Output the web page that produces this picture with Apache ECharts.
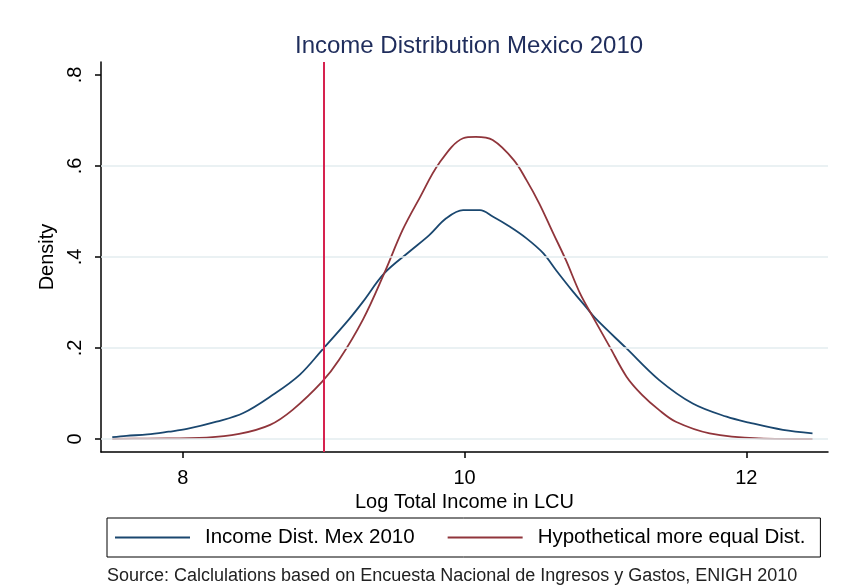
<!DOCTYPE html>
<html>
<head>
<meta charset="UTF-8">
<title>Income Distribution Mexico 2010</title>
<script src="https://cdn.jsdelivr.net/npm/echarts@6/dist/echarts.min.js"></script>
<style>
  html, body { margin: 0; padding: 0; background: #fff; }
  #chart { width: 845px; height: 586px; }
</style>
</head>
<body>
<div id="chart"></div>
<script>
// density: [log income, density]
var incomeMex2010 = [
    [7.50, 0.004], [7.60, 0.007], [7.75, 0.010], [7.90, 0.016], [8.03, 0.022],
    [8.24, 0.038], [8.43, 0.057], [8.64, 0.097], [8.83, 0.141], [8.99, 0.196],
    [9.18, 0.263], [9.28, 0.302], [9.43, 0.364], [9.61, 0.412], [9.75, 0.448],
    [9.87, 0.485], [9.99, 0.503], [10.11, 0.503], [10.20, 0.489], [10.32, 0.467],
    [10.44, 0.441], [10.56, 0.408], [10.65, 0.371], [10.77, 0.324], [10.86, 0.291],
    [10.93, 0.265], [11.15, 0.199], [11.38, 0.130], [11.62, 0.078], [11.86, 0.049],
    [12.02, 0.036], [12.26, 0.020], [12.47, 0.0125]
];
var moreEqual = [
    [7.50, 0.000], [7.75, 0.001], [8.17, 0.003], [8.40, 0.011], [8.62, 0.031],
    [8.78, 0.064], [8.99, 0.126], [9.11, 0.174], [9.28, 0.263], [9.43, 0.364],
    [9.56, 0.459], [9.68, 0.529], [9.82, 0.606], [9.99, 0.661], [10.08, 0.664],
    [10.20, 0.657], [10.35, 0.613], [10.44, 0.569], [10.53, 0.518], [10.63, 0.452],
    [10.72, 0.393], [10.82, 0.320], [10.91, 0.269], [11.03, 0.203], [11.15, 0.137],
    [11.26, 0.097], [11.38, 0.064], [11.50, 0.038], [11.74, 0.0125], [12.09, 0.0015],
    [12.47, 0.000]
];
var xTicks = [8, 10, 12];
var yTicks = [0, 0.2, 0.4, 0.6, 0.8];
var gridValues = [0, 0.2, 0.4, 0.6];
var povertyLine = 9;
var seriesNames = ['Income Dist. Mex 2010', 'Hypothetical more equal Dist.'];

var font = "'Liberation Sans', Arial, sans-serif";
var myChart = echarts.init(document.getElementById('chart'));

var option = {
    backgroundColor: '#fff',
    animation: false,
    textStyle: { fontFamily: font },
    title: {
        text: 'Income Distribution Mexico 2010',
        left: 290,
        top: 29,
        textStyle: { color: '#1f2d5c', fontSize: 24, fontWeight: 'normal', fontFamily: font }
    },
    grid: { left: 101, right: 17, top: 62, bottom: 134 },
    legend: {
        data: seriesNames,
        left: 107,
        top: 518,
        padding: [9, 15, 9, 8],
        borderColor: '#000',
        borderWidth: 1,
        icon: 'rect',
        itemWidth: 75,
        itemHeight: 2,
        itemGap: 33,
        textStyle: { color: '#000', fontSize: 20.5, fontFamily: font, padding: [0, 0, 0, 10] }
    },
    xAxis: {
        type: 'value',
        min: 7.42,
        max: 12.58,
        name: 'Log Total Income in LCU',
        nameLocation: 'middle',
        nameGap: 34,
        nameTextStyle: { color: '#000', fontSize: 20, fontFamily: font },
        axisLine: { onZero: false, lineStyle: { color: '#000', width: 1.5 } },
        axisTick: { length: 6, customValues: xTicks, lineStyle: { color: '#000', width: 1.5 } },
        axisLabel: { customValues: xTicks, color: '#000', fontSize: 20, margin: 16 },
        splitLine: { show: false }
    },
    yAxis: {
        type: 'value',
        min: -0.0286,
        max: 0.8286,
        name: 'Density',
        nameLocation: 'middle',
        nameGap: 37,
        nameTextStyle: { color: '#000', fontSize: 20, fontFamily: font },
        axisLine: { show: true, onZero: false, lineStyle: { color: '#000', width: 1.5 } },
        axisTick: { show: true, length: 6, customValues: yTicks, lineStyle: { color: '#000', width: 1.5 } },
        axisLabel: {
            customValues: yTicks,
            rotate: 90,
            color: '#000',
            fontSize: 20,
            margin: 16,
            formatter: function (v) {
                return v === 0 ? '0' : v.toFixed(1).replace(/^0/, '');
            }
        },
        splitLine: { show: false }
    },
    series: [
        {
            // light grid lines, behind the curves
            type: 'line',
            data: [],
            z: 1,
            silent: true,
            markLine: {
                silent: true,
                symbol: 'none',
                label: { show: false },
                lineStyle: { color: '#e3ecef', type: 'solid', width: 1.5 },
                data: gridValues.map(function (v) { return { yAxis: v }; })
            }
        },
        {
            name: seriesNames[0],
            type: 'line',
            data: incomeMex2010,
            showSymbol: false,
            smooth: 0.35,
            z: 3,
            color: '#1a476f',
            lineStyle: { color: '#1a476f', width: 1.8 }
        },
        {
            name: seriesNames[1],
            type: 'line',
            data: moreEqual,
            showSymbol: false,
            smooth: 0.35,
            z: 3,
            color: '#90353b',
            lineStyle: { color: '#90353b', width: 1.8 },
            markLine: {
                silent: true,
                symbol: 'none',
                label: { show: false },
                lineStyle: { color: '#d6224f', type: 'solid', width: 2 },
                data: [{ xAxis: povertyLine }]
            }
        }
    ],
    graphic: [{
        type: 'text',
        left: 107,
        top: 567,
        style: {
            text: 'Source: Calclulations based on Encuesta Nacional de Ingresos y Gastos, ENIGH 2010',
            fill: '#222',
            font: '18px ' + font
        }
    }]
};
myChart.setOption(option);
</script>
</body>
</html>
